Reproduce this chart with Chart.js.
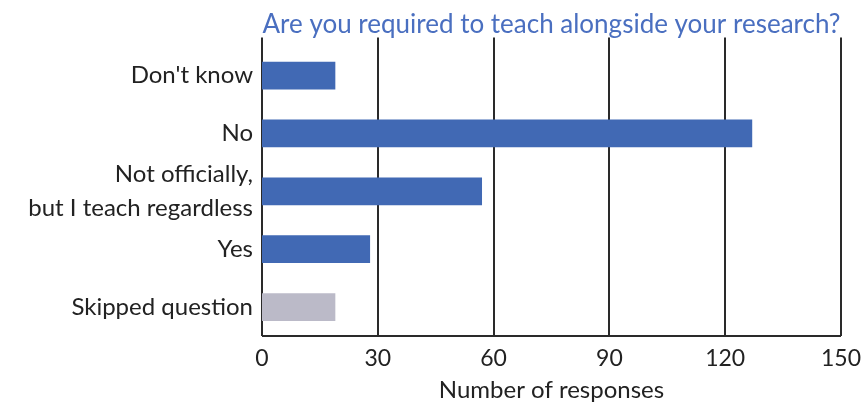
<!DOCTYPE html>
<html>
<head>
<meta charset="utf-8">
<script src="https://cdn.jsdelivr.net/npm/chart.js@4/dist/chart.umd.min.js"></script>
<style>
  html, body { margin: 0; padding: 0; background: #fff; }
  #wrap { width: 862px; height: 409px; }
</style>
</head>
<body>
<div id="wrap"><canvas id="teach"></canvas></div>
<script>
const categories = ["Don't know", 'No', ['Not officially,', 'but I teach regardless'], 'Yes', 'Skipped question']
const responses = [19, 127, 57, 28, 19]
const xMin = 0
const xMax = 150
const xStep = 30

const blue = '#4169b4'
const grey = '#bbbac8'
const ink = '#222222'

// vertical grid lines reach a little above the first bar band
const gridUp = {
  id: 'gridUp',
  beforeDatasetsDraw(chart) {
    const ctx = chart.ctx
    const area = chart.chartArea
    const x = chart.scales.x
    ctx.save()
    ctx.strokeStyle = '#2a2a2a'
    ctx.lineWidth = 2
    x.ticks.forEach(t => {
      const px = Math.round(x.getPixelForValue(t.value))
      ctx.beginPath()
      ctx.moveTo(px, area.top - 9)
      ctx.lineTo(px, area.bottom)
      ctx.stroke()
    })
    ctx.beginPath()
    ctx.moveTo(area.left, area.bottom)
    ctx.lineTo(area.right, area.bottom)
    ctx.stroke()
    ctx.restore()
  }
}

Chart.defaults.font.family = 'Lato, "Open Sans", sans-serif'

var myChart = new Chart(document.getElementById('teach'), {
  type: 'bar',
  data: {
    labels: categories,
    datasets: [{
      data: responses,
      backgroundColor: responses.map((v, i) => i === responses.length - 1 ? grey : blue),
      barPercentage: 0.48,
      categoryPercentage: 1
    }]
  },
  options: {
    indexAxis: 'y',
    responsive: true,
    maintainAspectRatio: false,
    animation: false,
    layout: { padding: { top: 4, right: 14, left: 0, bottom: 0 } },
    plugins: {
      legend: { display: false },
      tooltip: { enabled: false },
      title: {
        display: true,
        fullSize: false,
        text: 'Are you required to teach alongside your research?',
        color: '#4a6fc0',
        font: { size: 26, weight: 'normal', lineHeight: 1.1 },
        padding: { top: 6, bottom: 8 }
      }
    },
    scales: {
      x: {
        min: xMin,
        max: xMax,
        ticks: { stepSize: xStep, color: ink, font: { size: 23 }, padding: 1 },
        grid: { display: false },
        border: { display: false },
        title: {
          display: true,
          text: 'Number of responses',
          color: ink,
          font: { size: 24 },
          padding: { top: 7 }
        },
        afterFit(scale) { scale.height = 73 }
      },
      y: {
        ticks: { color: ink, font: { size: 24, lineHeight: 1.4 }, padding: 1, autoSkip: false },
        grid: { display: false },
        border: { display: false },
        afterFit(scale) { scale.width = 262 }
      }
    }
  },
  plugins: [gridUp]
})
</script>
</body>
</html>
